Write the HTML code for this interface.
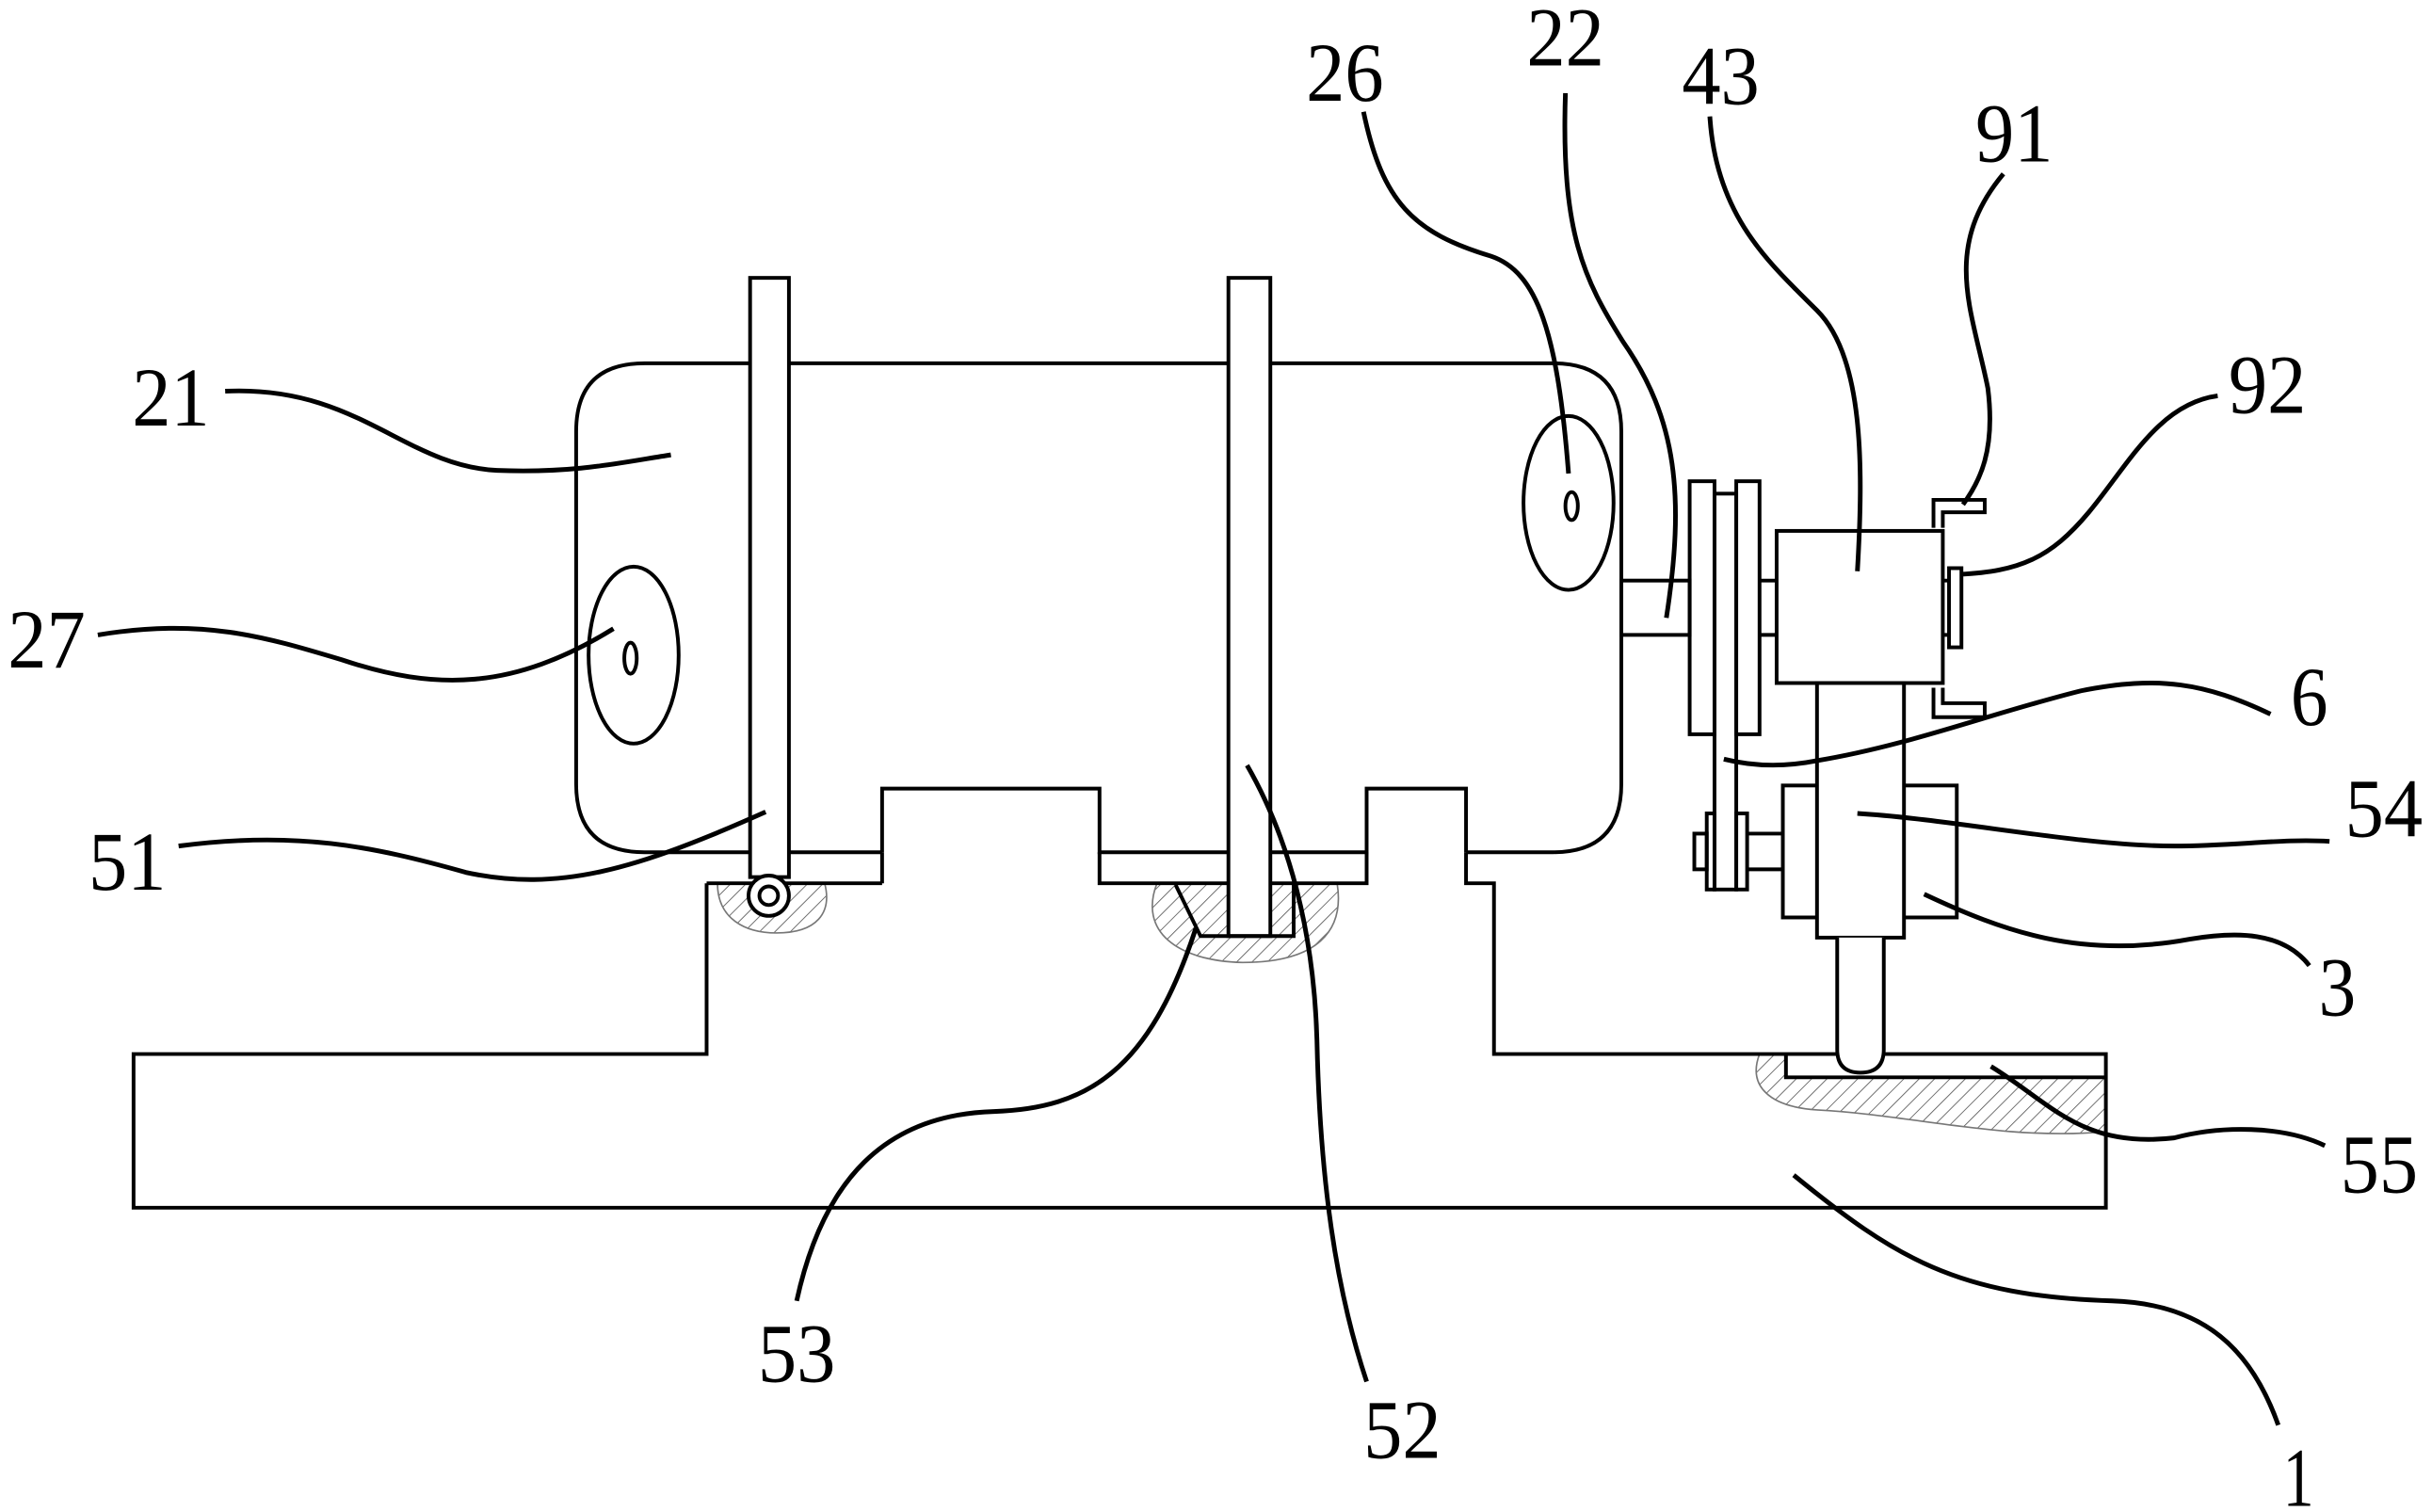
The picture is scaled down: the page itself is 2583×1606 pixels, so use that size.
<!DOCTYPE html>
<html><head><meta charset="utf-8"><style>html,body{margin:0;padding:0;background:#fff}svg{display:block}</style></head><body>
<svg width="2583" height="1606" viewBox="0 0 1566 974" preserveAspectRatio="none" xmlns="http://www.w3.org/2000/svg">
<defs><pattern id="h" width="7" height="7" patternUnits="userSpaceOnUse" patternTransform="rotate(45)"><line x1="0" y1="0" x2="0" y2="7" stroke="#555" stroke-width="1"/></pattern></defs>
<rect width="1566" height="974" fill="#fff"/>
<g fill="none" stroke="#000" stroke-width="2.4">
<path d="M462,569 C462,592 480,601 500,601 C526,601 536,588 531,569Z" fill="url(#h)" stroke="#777" stroke-width="1"/>
<path d="M745,569 C733,600 758,619 800,620 C848,620 866,600 861,569Z" fill="url(#h)" stroke="#777" stroke-width="1"/>
<path d="M1133,679 C1125,700 1140,713 1170,715 C1230,718 1290,735 1356,729 L1356,694 L1150,694 L1150,679Z" fill="url(#h)" stroke="#777" stroke-width="1"/>
<path d="M568,549 L415,549 Q371,549 371,505 L371,278 Q371,234 415,234 L1000,234 Q1044,234 1044,278 L1044,505 Q1044,549 1000,549 L944,549"/>
<path d="M568,549 L568,508 L708,508 L708,549 L880,549 L880,508 L944,508 L944,549"/>
<path d="M455,569 L568,569 M568,549 L568,569" />
<path d="M708,549 L708,569 L880,569 L880,549 M944,549 L944,569 L962,569 L962,679 L1356,679 L1356,778 L86,778 L86,679 L455,679 L455,569"/>
<rect x="483" y="179" width="25" height="386" fill="#fff"/>
<circle cx="495" cy="577" r="13" fill="#fff"/>
<circle cx="495" cy="577" r="6"/>
<rect x="791" y="179" width="27" height="424" fill="#fff"/>
<path d="M757,570 L773,603 L833,603 L833,569"/>
<ellipse cx="408" cy="422" rx="29" ry="57"/>
<ellipse cx="406" cy="424" rx="4" ry="10"/>
<ellipse cx="1010" cy="324" rx="29" ry="56"/>
<ellipse cx="1012" cy="326" rx="4" ry="9"/>
<rect x="1044" y="374" width="44" height="35"/>
<rect x="1088" y="310" width="16" height="163"/>
<rect x="1118" y="310" width="15" height="163"/>
<rect x="1104" y="318" width="14" height="255"/>
<path d="M1133,374 L1144,374 M1133,409 L1144,409"/>
<rect x="1099" y="524" width="5" height="49"/>
<rect x="1118" y="524" width="7" height="49"/>
<rect x="1091" y="537" width="8" height="23"/>
<path d="M1125,537 L1147,537 M1125,560 L1147,560"/>
<rect x="1144" y="342" width="107" height="98"/>
<path d="M1245,340 L1245,322 L1278,322 L1278,330 L1251,330 L1251,340"/>
<path d="M1245,443 L1245,462 L1278,462 L1278,453 L1251,453 L1251,443"/>
<rect x="1255" y="366" width="8" height="51"/>
<path d="M1251,374 L1255,374 M1251,409 L1255,409"/>
<rect x="1148" y="506" width="112" height="85"/>
<rect x="1170" y="440" width="56" height="164" fill="#fff"/>
<path d="M1183,604 L1183,676 Q1183,691 1198,691 Q1213,691 1213,676 L1213,604" fill="#fff"/>
<path d="M1150,679 L1150,694 L1356,694"/>
</g>
<g fill="none" stroke="#000" stroke-width="3">
<path d="M145,252 C230,248 260,300 320,303 C370,305 400,298 432,293"/>
<path d="M63,409 C130,398 170,410 220,425 C280,445 330,445 395,405"/>
<path d="M115,545 C190,535 240,545 300,562 C360,575 410,560 493,523"/>
<path d="M513,838 C530,760 570,718 640,716 C700,714 740,690 770,598"/>
<path d="M880,890 C860,830 850,760 848,670 C846,600 830,540 803,493"/>
<path d="M878,72 C890,130 910,150 960,165 C990,175 1003,215 1010,305"/>
<path d="M1008,60 C1005,150 1020,180 1045,220 C1080,270 1085,320 1073,398"/>
<path d="M1101,75 C1105,140 1140,170 1170,200 C1200,230 1200,300 1196,368"/>
<path d="M1290,112 C1250,160 1270,200 1280,250 C1285,290 1275,310 1264,325"/>
<path d="M1428,255 C1390,260 1370,300 1345,330 C1320,360 1300,368 1262,370"/>
<path d="M1462,460 C1420,440 1390,435 1340,445 C1280,460 1230,480 1170,490 C1150,494 1130,494 1110,489"/>
<path d="M1500,542 C1470,540 1440,545 1400,545 C1340,545 1260,528 1196,524"/>
<path d="M1487,622 C1470,600 1440,600 1410,605 C1340,618 1290,600 1239,576"/>
<path d="M1497,738 C1470,725 1430,725 1400,733 C1340,740 1320,710 1282,687"/>
<path d="M1467,918 C1450,870 1420,840 1360,838 C1260,835 1220,810 1155,757"/>
</g>
<g font-family="Liberation Serif, serif" font-size="54" fill="#000" text-anchor="middle" lengthAdjust="spacingAndGlyphs">
<text x="110" y="274" textLength="50" lengthAdjust="spacingAndGlyphs">21</text>
<text x="30" y="430" textLength="50" lengthAdjust="spacingAndGlyphs">27</text>
<text x="82" y="573" textLength="50" lengthAdjust="spacingAndGlyphs">51</text>
<text x="513" y="890" textLength="50" lengthAdjust="spacingAndGlyphs">53</text>
<text x="903" y="939" textLength="50" lengthAdjust="spacingAndGlyphs">52</text>
<text x="866" y="65" textLength="50" lengthAdjust="spacingAndGlyphs">26</text>
<text x="1008" y="42" textLength="50" lengthAdjust="spacingAndGlyphs">22</text>
<text x="1108" y="67" textLength="50" lengthAdjust="spacingAndGlyphs">43</text>
<text x="1297" y="104" textLength="50" lengthAdjust="spacingAndGlyphs">91</text>
<text x="1460" y="266" textLength="50" lengthAdjust="spacingAndGlyphs">92</text>
<text x="1487" y="467" textLength="24" lengthAdjust="spacingAndGlyphs">6</text>
<text x="1535" y="539" textLength="50" lengthAdjust="spacingAndGlyphs">54</text>
<text x="1505" y="654" textLength="24" lengthAdjust="spacingAndGlyphs">3</text>
<text x="1532" y="768" textLength="50" lengthAdjust="spacingAndGlyphs">55</text>
<text x="1480" y="970" textLength="20" lengthAdjust="spacingAndGlyphs">1</text>
</g>
</svg>
</body></html>
